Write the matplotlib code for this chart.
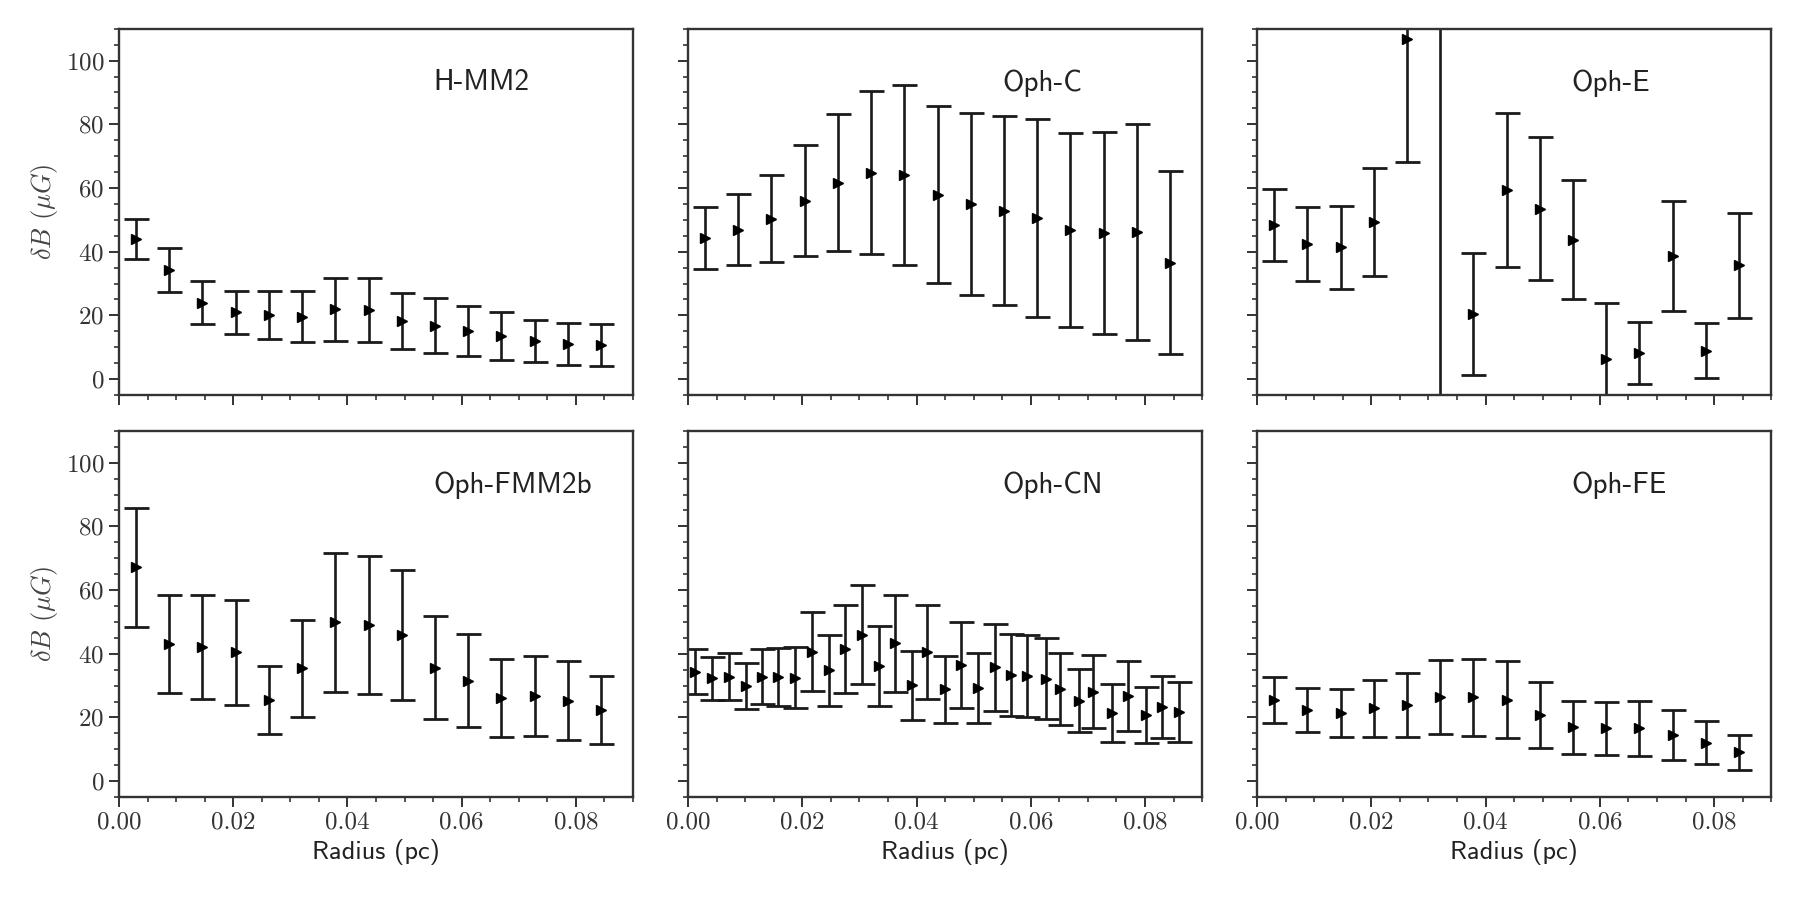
import matplotlib
matplotlib.use("Agg")
import matplotlib.pyplot as plt
from matplotlib.ticker import MultipleLocator, FormatStrFormatter

plt.rcParams["mathtext.fontset"] = "cm"
plt.rcParams["axes.formatter.use_mathtext"] = True

# radius grid shared by the 15-point profiles (pc)
radius_15 = [0.0029, 0.0087, 0.0146, 0.0204, 0.0262, 0.0320, 0.0378, 0.0437,
             0.0495, 0.0553, 0.0611, 0.0669, 0.0728, 0.0786, 0.0844]

# Oph-CN has a finer radial sampling
radius_cn = [0.0012, 0.0042, 0.0071, 0.0102, 0.0129, 0.0158, 0.0188, 0.0217,
             0.0246, 0.0275, 0.0305, 0.0334, 0.0363, 0.0392, 0.0419, 0.0449,
             0.0478, 0.0508, 0.0537, 0.0566, 0.0594, 0.0626, 0.0651, 0.0685,
             0.0709, 0.0743, 0.0770, 0.0801, 0.0829, 0.0860]

hmm2_db = [44.0, 34.3, 24.0, 21.0, 20.0, 19.5, 21.9, 21.7, 18.3, 16.8, 15.1, 13.6, 12.0, 11.0, 10.6]
hmm2_err = [6.3, 7.0, 6.7, 6.8, 7.5, 8.0, 9.8, 10.0, 8.8, 8.6, 8.0, 7.5, 6.7, 6.6, 6.6]

ophc_db = [44.3, 46.9, 50.4, 56.0, 61.7, 64.8, 64.2, 57.9, 55.0, 52.9, 50.6, 46.7, 45.9, 46.2, 36.6]
ophc_err = [9.7, 11.2, 13.7, 17.4, 21.6, 25.6, 28.3, 27.7, 28.6, 29.7, 31.0, 30.5, 31.7, 34.0, 28.6]

# sixth Oph-E point lies far above the plotted range, only its bar is visible
ophe_db = [48.5, 42.5, 41.4, 49.4, 106.7, 150.0, 20.5, 59.3, 53.5, 43.8, 6.3, 8.1, 38.7, 8.9, 35.7]
ophe_err = [11.3, 11.6, 13.1, 17.0, 38.5, 200.0, 19.1, 24.1, 22.4, 18.6, 17.7, 9.7, 17.3, 8.7, 16.4]

fmm2b_db = [67.2, 43.2, 42.2, 40.5, 25.4, 35.4, 49.9, 49.1, 45.9, 35.6, 31.6, 26.1, 26.8, 25.3, 22.4]
fmm2b_err = [18.7, 15.4, 16.4, 16.5, 10.7, 15.2, 21.8, 21.7, 20.5, 16.2, 14.7, 12.1, 12.6, 12.3, 10.6]

ophcn_db = [34.4, 32.3, 32.8, 29.9, 32.8, 32.8, 32.5, 40.7, 34.8, 41.4, 46.0, 36.2, 43.3, 30.1, 40.6,
            28.9, 36.4, 29.2, 35.7, 33.3, 33.1, 32.2, 28.9, 25.2, 28.1, 21.5, 26.8, 20.8, 23.2, 21.8]
ophcn_err = [7.0, 6.7, 7.4, 7.2, 8.6, 9.1, 9.5, 12.5, 11.1, 13.8, 15.5, 12.5, 15.2, 10.9, 14.7,
             10.5, 13.5, 11.1, 13.7, 12.8, 12.9, 12.6, 11.4, 9.9, 11.4, 9.1, 11.0, 8.8, 9.7, 9.4]

ophfe_db = [25.5, 22.4, 21.5, 22.9, 23.9, 26.5, 26.3, 25.5, 20.8, 16.9, 16.6, 16.6, 14.5, 12.1, 9.0]
ophfe_err = [7.3, 6.9, 7.5, 8.9, 9.9, 11.6, 12.2, 12.1, 10.3, 8.3, 8.4, 8.6, 7.9, 6.8, 5.4]

panels = [
    ("H-MM2", radius_15, hmm2_db, hmm2_err),
    ("Oph-C", radius_15, ophc_db, ophc_err),
    ("Oph-E", radius_15, ophe_db, ophe_err),
    ("Oph-FMM2b", radius_15, fmm2b_db, fmm2b_err),
    ("Oph-CN", radius_cn, ophcn_db, ophcn_err),
    ("Oph-FE", radius_15, ophfe_db, ophfe_err),
]

fig, axes = plt.subplots(2, 3, figsize=(18, 9), dpi=100, sharex=True, sharey=True)
fig.subplots_adjust(left=0.0661, right=0.984, bottom=0.1144, top=0.968,
                    wspace=0.107, hspace=0.098)

spine_col = "#333333"
for ax, (name, x, y, err) in zip(axes.flat, panels):
    ax.errorbar(x, y, yerr=err, fmt=">", color="black", ms=7,
                elinewidth=1.9, capsize=9, capthick=2.0, ecolor="#1a1a1a")
    ax.text(0.055, 93, name, family="cmss10", fontsize=21, color="#222222",
            ha="left", va="center")
    ax.set_xlim(0, 0.09)
    ax.set_ylim(-5, 110)
    ax.xaxis.set_major_locator(MultipleLocator(0.02))
    ax.xaxis.set_minor_locator(MultipleLocator(0.005))
    ax.yaxis.set_major_locator(MultipleLocator(20))
    ax.yaxis.set_minor_locator(MultipleLocator(5))
    ax.xaxis.set_major_formatter(FormatStrFormatter("%.2f"))
    ax.tick_params(which="major", direction="out", length=7, width=1.4,
                   colors=spine_col, labelsize=18, labelcolor="#333333")
    ax.tick_params(which="minor", direction="out", length=3.5, width=1.2,
                   colors=spine_col)
    for lab in ax.get_xticklabels() + ax.get_yticklabels():
        lab.set_fontfamily("cmr10")
    for sp in ax.spines.values():
        sp.set_color(spine_col)
        sp.set_linewidth(1.7)

for ax in axes[1]:
    ax.set_xlabel("Radius (pc)", family="cmss10", fontsize=19, color="#222222")
for ax in axes[:, 0]:
    ax.set_ylabel(r"$\delta B$ $(\mu G)$", fontsize=19, color="#444444")

fig.savefig("out.png", dpi=100)
